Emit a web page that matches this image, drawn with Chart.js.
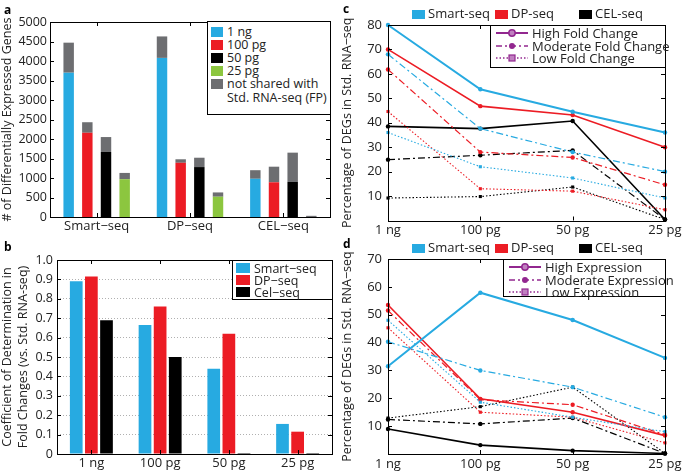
<!DOCTYPE html>
<html>
<head>
<meta charset="utf-8">
<script src="https://cdn.jsdelivr.net/npm/chart.js@4.4.1/dist/chart.umd.min.js"></script>
<style>
  body { margin: 0; background: #fff; font-family: 'Open Sans', sans-serif; color: #222; }
  #wrap { position: relative; width: 685px; height: 473px; overflow: hidden; }
  canvas { position: absolute; }
  .tag { position: absolute; font-weight: bold; font-size: 12px; color: #000; }
  .leg { position: absolute; border: 1px solid #000; background: #fff; box-sizing: border-box; font-size: 12.5px; }
  .row { display: flex; align-items: center; white-space: nowrap; }
  .sw { display: inline-block; flex: none; }
  .top { position: absolute; font-size: 13px; white-space: nowrap; }
  .top span.sw { width: 13px; height: 9px; margin-right: 3px; vertical-align: -1px; }
</style>
</head>
<body>
<div id="wrap">
  <canvas id="ca" width="340" height="240" style="left:0;top:0"></canvas>
  <canvas id="cb" width="340" height="233" style="left:0;top:240px"></canvas>
  <canvas id="cc" width="345" height="240" style="left:340px;top:0"></canvas>
  <canvas id="cd" width="345" height="238" style="left:340px;top:235px"></canvas>
  <div class="tag" style="left:4px;top:1px">a</div>
  <div class="tag" style="left:4px;top:238px">b</div>
  <div class="tag" style="left:343px;top:0px">c</div>
  <div class="tag" style="left:343px;top:235px">d</div>
</div>
<script>
const colors = {
  blue: '#27AAE1',
  red: '#EC1C24',
  black: '#000000',
  green: '#8CC63F',
  grey: '#6D6E71',
  purple: '#92278F'
};

// panel a
const methods = ['Smart\u2212seq', 'DP\u2212seq', 'CEL\u2212seq'];
const amounts = ['1 ng', '100 pg', '50 pg', '25 pg'];
const amountColors = [colors.blue, colors.red, colors.black, colors.green];
const shared1ng = [3700, 4080, 980];
const shared100pg = [2160, 1390, 890];
const shared50pg = [1670, 1280, 900];
const shared25pg = [970, 520, 0];
const fp1ng = [770, 550, 220];
const fp100pg = [270, 90, 400];
const fp50pg = [380, 240, 750];
const fp25pg = [160, 110, 30];
const aTicks = [0, 500, 1000, 1500, 2000, 2500, 3000, 3500, 4000, 4500, 5000];

// panel b
const r2Smart = [0.89, 0.665, 0.44, 0.155];
const r2DP = [0.915, 0.76, 0.62, 0.115];
const r2Cel = [0.69, 0.50, 0.005, 0.005];

// panel c (fold change)
const cSmartHigh = [80, 53.7, 44.5, 36];
const cSmartMod = [68, 37.6, 28, 20];
const cSmartLow = [36, 22, 17.4, 9.2];
const cDPHigh = [70, 46.8, 43.2, 30];
const cDPMod = [61.8, 28, 25.8, 14.6];
const cDPLow = [44.6, 13, 12, 4.4];
const cCelHigh = [38.5, 37.6, 40.7, 0.4];
const cCelMod = [24.9, 26.7, 28.7, 0.4];
const cCelLow = [9.2, 9.8, 13.7, 0.4];

// panel d (expression)
const dSmartHigh = [31.5, 57.9, 48.1, 34.5];
const dSmartMod = [40.3, 30, 24, 13.2];
const dSmartLow = [48, 18.6, 13.2, 8];
const dDPHigh = [53.5, 19.8, 15, 6.6];
const dDPMod = [51.5, 19.5, 17.7, 6.9];
const dDPLow = [45.3, 15, 13.2, 4];
const dCelHigh = [9, 3.2, 1.2, 0.2];
const dCelMod = [12.4, 10.8, 12.9, 0.2];
const dCelLow = [12.9, 17, 24, 0.2];

Chart.defaults.font.family = "'Open Sans', sans-serif";
Chart.defaults.font.size = 12.5;
Chart.defaults.color = '#222';
Chart.defaults.animation = false;

// box around plot area with inward ticks (MATLAB look)
const framePlugin = {
  id: 'frame',
  afterDatasetsDraw(chart) {
    const { ctx, chartArea: a, scales } = chart;
    ctx.save();
    ctx.strokeStyle = '#000';
    ctx.lineWidth = 1;
    ctx.strokeRect(Math.round(a.left) + 0.5, Math.round(a.top) + 0.5,
      Math.round(a.right - a.left), Math.round(a.bottom - a.top));
    ctx.beginPath();
    scales.y.ticks.forEach((t, i) => {
      const y = Math.round(scales.y.getPixelForTick(i)) + 0.5;
      ctx.moveTo(a.left, y); ctx.lineTo(a.left + 4, y);
      ctx.moveTo(a.right, y); ctx.lineTo(a.right - 4, y);
    });
    scales.x.ticks.forEach((t, i) => {
      const x = Math.round(scales.x.getPixelForTick(i)) + 0.5;
      ctx.moveTo(x, a.bottom); ctx.lineTo(x, a.bottom - 4);
      ctx.moveTo(x, a.top); ctx.lineTo(x, a.top + 4);
    });
    ctx.stroke();
    ctx.restore();
  }
};

function fixedBox(left, top, right, bottom, yWidth, xHeight) {
  return {
    layout: { padding: { left, top, right, bottom } },
    yFit: s => { s.width = yWidth; },
    xFit: s => { s.height = xHeight; }
  };
}

// ---------- a ----------
const boxA = fixedBox(0, 22, 10, 0, 50, 23);
const sharedA = [shared1ng, shared100pg, shared50pg, shared25pg];
const fpA = [fp1ng, fp100pg, fp50pg, fp25pg];
const dsA = [];
amounts.forEach((amt, i) => {
  dsA.push({ label: amt, data: sharedA[i], stack: 's' + i, backgroundColor: amountColors[i] });
  dsA.push({ label: 'not shared with Std. RNA-seq (FP)', data: fpA[i], stack: 's' + i, backgroundColor: colors.grey });
});
new Chart(document.getElementById('ca'), {
  type: 'bar',
  data: { labels: methods, datasets: dsA },
  options: {
    responsive: false,
    layout: boxA.layout,
    categoryPercentage: 0.8,
    barPercentage: 0.56,
    plugins: { legend: { display: false }, tooltip: { enabled: false } },
    scales: {
      x: { stacked: true, grid: { display: false, drawTicks: false }, border: { display: false },
           ticks: { padding: 1, font: { size: 13 } }, afterFit: boxA.xFit },
      y: { stacked: true, min: 0, max: 5000, afterFit: boxA.yFit,
           grid: { display: false, drawTicks: false }, border: { display: false },
           afterBuildTicks: s => { s.ticks = aTicks.map(v => ({ value: v })); },
           ticks: { padding: 3, font: { size: 12.5 }, callback: v => String(v) },
           title: { display: true, text: '# of Differentially Expressed Genes', padding: 0, font: { size: 12.5 } } }
    }
  },
  plugins: [framePlugin]
});

// ---------- b ----------
const boxB = fixedBox(0, 20, 8, 0, 57, 19);
new Chart(document.getElementById('cb'), {
  type: 'bar',
  data: {
    labels: amounts,
    datasets: [
      { label: 'Smart\u2212seq', data: r2Smart, backgroundColor: colors.blue },
      { label: 'DP\u2212seq', data: r2DP, backgroundColor: colors.red },
      { label: 'Cel\u2212seq', data: r2Cel, backgroundColor: colors.black }
    ]
  },
  options: {
    responsive: false,
    layout: boxB.layout,
    categoryPercentage: 0.66,
    barPercentage: 0.84,
    plugins: { legend: { display: false }, tooltip: { enabled: false } },
    scales: {
      x: { grid: { display: false, drawTicks: false }, border: { display: false },
           ticks: { padding: 1, font: { size: 13 } }, afterFit: boxB.xFit },
      y: { min: 0, max: 1, afterFit: boxB.yFit,
           grid: { color: '#b0b0b0', drawTicks: false }, border: { display: false, dash: [1, 2] },
           ticks: { stepSize: 0.1, padding: 4, callback: v => v === 0 ? '0' : v.toFixed(1) },
           title: { display: true, text: ['Coefficient of Determination in', 'Fold Changes (vs. Std. RNA-seq)'],
                    padding: 0, font: { size: 12.5, lineHeight: 1.25 } } }
    }
  },
  plugins: [framePlugin]
});

// ---------- c, d ----------
const lineStyles = {
  high: { borderDash: [], borderWidth: 1.6, pointStyle: 'circle' },
  mod: { borderDash: [7, 3, 2, 3], borderWidth: 1.2, pointStyle: 'circle' },
  low: { borderDash: [1.5, 2], borderWidth: 1.1, pointStyle: 'rect' }
};
function lineSet(label, data, color, kind) {
  const st = lineStyles[kind];
  return {
    label, data, borderColor: color, backgroundColor: color,
    borderWidth: (kind === 'high' && color === colors.blue) ? 2 : st.borderWidth,
    borderDash: st.borderDash, pointStyle: st.pointStyle,
    pointRadius: 2.2, pointBorderWidth: 0, clip: false, tension: 0
  };
}
function lineChart(id, box, yMax, sets) {
  new Chart(document.getElementById(id), {
    type: 'line',
    data: { labels: amounts, datasets: sets },
    options: {
      responsive: false,
      layout: box.layout,
      plugins: { legend: { display: false }, tooltip: { enabled: false } },
      scales: {
        x: { offset: false, grid: { display: false, drawTicks: false }, border: { display: false },
             ticks: { padding: 2, font: { size: 13 } }, afterFit: box.xFit },
        y: { min: 0, max: yMax, afterFit: box.yFit,
             grid: { display: false, drawTicks: false }, border: { display: false },
             ticks: { stepSize: 10, padding: 6, font: { size: 13 }, callback: v => v === 0 ? '' : v },
             title: { display: true, text: 'Percentage of DEGs in Std. RNA\u2212seq', padding: 0, font: { size: 12.5 } } }
      }
    },
    plugins: [framePlugin]
  });
}
const boxC = fixedBox(0, 25, 20, 0, 48, 19.5);
lineChart('cc', boxC, 80, [
  lineSet('Smart-seq High', cSmartHigh, colors.blue, 'high'),
  lineSet('Smart-seq Moderate', cSmartMod, colors.blue, 'mod'),
  lineSet('Smart-seq Low', cSmartLow, colors.blue, 'low'),
  lineSet('DP-seq High', cDPHigh, colors.red, 'high'),
  lineSet('DP-seq Moderate', cDPMod, colors.red, 'mod'),
  lineSet('DP-seq Low', cDPLow, colors.red, 'low'),
  lineSet('CEL-seq High', cCelHigh, colors.black, 'high'),
  lineSet('CEL-seq Moderate', cCelMod, colors.black, 'mod'),
  lineSet('CEL-seq Low', cCelLow, colors.black, 'low')
]);
const boxD = fixedBox(0, 24, 20, 0, 48, 19);
lineChart('cd', boxD, 70, [
  lineSet('Smart-seq High', dSmartHigh, colors.blue, 'high'),
  lineSet('Smart-seq Moderate', dSmartMod, colors.blue, 'mod'),
  lineSet('Smart-seq Low', dSmartLow, colors.blue, 'low'),
  lineSet('DP-seq High', dDPHigh, colors.red, 'high'),
  lineSet('DP-seq Moderate', dDPMod, colors.red, 'mod'),
  lineSet('DP-seq Low', dDPLow, colors.red, 'low'),
  lineSet('CEL-seq High', dCelHigh, colors.black, 'high'),
  lineSet('CEL-seq Moderate', dCelMod, colors.black, 'mod'),
  lineSet('CEL-seq Low', dCelLow, colors.black, 'low')
]);

// ---------- html legends ----------
const wrap = document.getElementById('wrap');
function box(left, top, width, height, fontSize) {
  const d = document.createElement('div');
  d.className = 'leg';
  Object.assign(d.style, { left: left + 'px', top: top + 'px', width: width + 'px', height: height + 'px', fontSize: fontSize + 'px' });
  wrap.appendChild(d);
  return d;
}
function swatchRow(parent, color, text, h, sw) {
  const r = document.createElement('div');
  r.className = 'row';
  r.style.height = h + 'px';
  r.innerHTML = '<span class="sw" style="width:' + sw[0] + 'px;height:' + sw[1] + 'px;background:' + color +
    ';margin:0 4px 0 3px"></span><span>' + text + '</span>';
  parent.appendChild(r);
  return r;
}
// a
const legA = box(207, 21, 124, 94, 12.5);
legA.style.paddingTop = '3px';
amounts.forEach((amt, i) => swatchRow(legA, amountColors[i], amt, 13, [12, 10]));
swatchRow(legA, colors.grey, 'not shared with', 13, [12, 10]);
const legA2 = document.createElement('div');
legA2.style.cssText = 'padding-left:19px;height:16px;line-height:16px;white-space:nowrap';
legA2.textContent = 'Std. RNA-seq (FP)';
legA.appendChild(legA2);
// b
const legB = box(232, 260, 101, 40, 12.5);
legB.style.paddingTop = '1px';
[['Smart\u2212seq', colors.blue], ['DP\u2212seq', colors.red], ['Cel\u2212seq', colors.black]]
  .forEach(([t, c]) => swatchRow(legB, c, t, 12, [14, 10]));
// c, d top legends
function topLegend(top) {
  const items = [['Smart-seq', colors.blue, 412], ['DP-seq', colors.red, 495], ['CEL-seq', colors.black, 579]];
  items.forEach(([t, c, x]) => {
    const d = document.createElement('div');
    d.className = 'top';
    d.style.left = x + 'px';
    d.style.top = top + 'px';
    d.innerHTML = '<span class="sw" style="background:' + c + '"></span>' + t;
    wrap.appendChild(d);
  });
}
topLegend(4);
topLegend(238);
// line-style legends
function markerSvg(kind) {
  const p = colors.purple;
  const dash = kind === 'high' ? '' : (kind === 'mod' ? 'stroke-dasharray="6 3 2 3"' : 'stroke-dasharray="1.5 2"');
  let m;
  if (kind === 'high') m = '<circle cx="17" cy="6" r="3.2" fill="#c080c0" stroke="' + p + '" stroke-width="1.5"/>';
  else if (kind === 'mod') m = '<circle cx="17" cy="6" r="3" fill="' + p + '"/>';
  else m = '<rect x="14" y="3" width="6" height="6" fill="#c080c0" stroke="' + p + '" stroke-width="1.2"/>';
  return '<svg width="34" height="12" style="flex:none;margin:0 3px 0 4px"><line x1="1" y1="6" x2="33" y2="6" stroke="' + p +
    '" stroke-width="' + (kind === 'high' ? 2 : 1.6) + '" ' + dash + '/>' + m + '</svg>';
}
function styleLegend(left, top, width, height, words) {
  const d = box(left, top, width, height, 13);
  d.style.paddingTop = '1px';
  ['high', 'mod', 'low'].forEach((k, i) => {
    const r = document.createElement('div');
    r.className = 'row';
    r.style.height = '12.5px';
    r.innerHTML = markerSvg(k) + '<span>' + words[i] + '</span>';
    d.appendChild(r);
  });
}
styleLegend(490, 25, 176, 43, ['High Fold Change', 'Moderate Fold Change', 'Low Fold Change']);
styleLegend(503, 259, 163, 38, ['High Expression', 'Moderate Expression', 'Low Expression']);
</script>
</body>
</html>
